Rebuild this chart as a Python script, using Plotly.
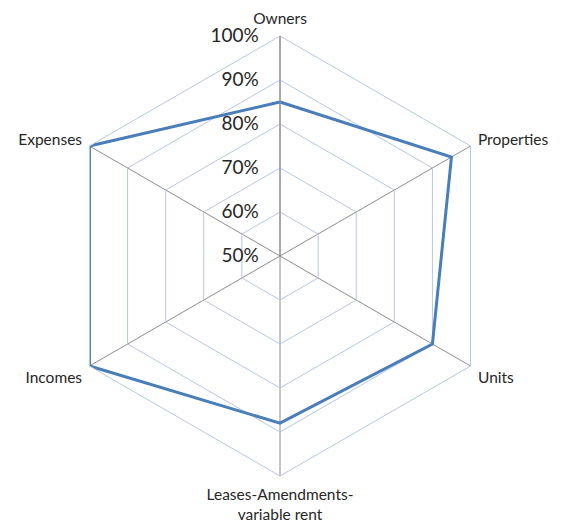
import plotly.graph_objects as go

categories = ["Owners", "Properties", "Units", "Leases-Amendments-<br>variable rent", "Incomes", "Expenses"]
values = [85, 95, 90, 88, 100, 100]
radial_ticks = [50, 60, 70, 80, 90, 100]
radial_labels = [f"{v}%" for v in radial_ticks]

W, H = 568, 525
# page body has an 8px margin, so shift the target centre accordingly
cx, cy, R = 272, 248, 220

fig = go.Figure()
fig.add_trace(go.Scatterpolar(
    r=values + values[:1],
    theta=categories + categories[:1],
    mode="lines",
    line=dict(color="#4a7ebb", width=3),
    showlegend=False,
    hoverinfo="skip",
))

fig.update_layout(
    width=W, height=H,
    margin=dict(l=0, r=0, t=0, b=0),
    paper_bgcolor="white",
    plot_bgcolor="white",
    font=dict(family="Lato, Open Sans, sans-serif", color="#262626"),
    polar=dict(
        domain=dict(x=[(cx - R) / W, (cx + R) / W], y=[(H - cy - R) / H, (H - cy + R) / H]),
        bgcolor="white",
        gridshape="linear",
        radialaxis=dict(
            range=[50, 100],
            tickvals=radial_ticks,
            ticktext=radial_labels,
            angle=90,
            tickangle=90,
            side="counterclockwise",
            showline=True,
            linecolor="#8c8c8c",
            linewidth=1,
            gridcolor="#b4c7e7",
            gridwidth=1,
            ticks="outside",
            ticklen=14,
            tickcolor="rgba(0,0,0,0)",
            tickfont=dict(size=19, color="#262626"),
        ),
        angularaxis=dict(
            rotation=90,
            direction="clockwise",
            type="category",
            categoryarray=categories,
            linecolor="#b4c7e7",
            linewidth=1,
            gridcolor="#8c8c8c",
            gridwidth=1,
            ticks="outside",
            ticklen=5,
            tickcolor="rgba(0,0,0,0)",
            tickfont=dict(size=15.5, color="#262626"),
        ),
    ),
)

fig.write_html("out.html")
